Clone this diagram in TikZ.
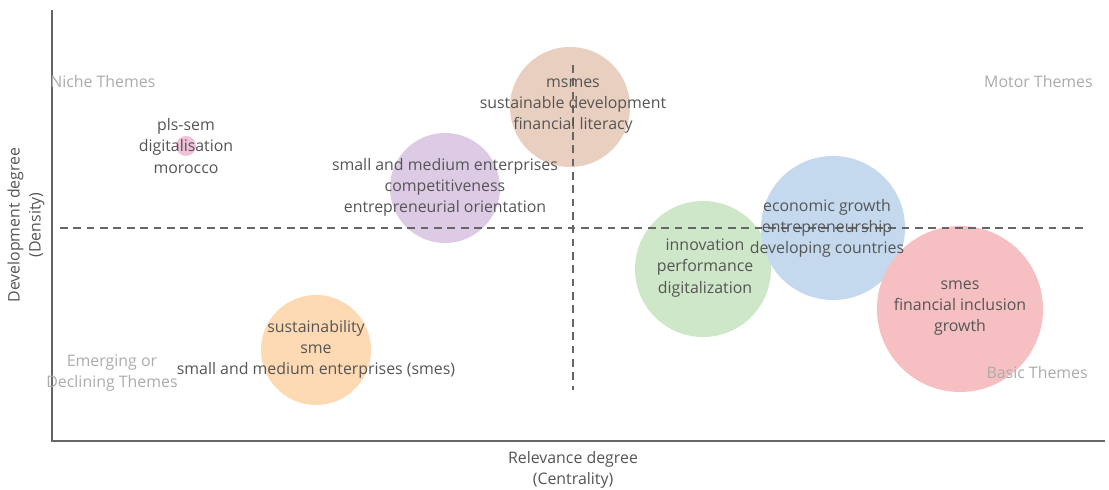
\documentclass[tikz,border=0pt]{standalone}
\usepackage{fontspec}
\setmainfont{Open Sans}
\usetikzlibrary{positioning}

\definecolor{txtgray}{HTML}{555555}
\definecolor{quadgray}{HTML}{ABABAB}
\definecolor{axisgray}{HTML}{666666}
\definecolor{cpink}{HTML}{EFC2DA}
\definecolor{cpeach}{HTML}{E9CFBF}
\definecolor{cpurple}{HTML}{DDCBE6}
\definecolor{cgreen}{HTML}{CFE7C9}
\definecolor{cblue}{HTML}{C5D9EE}
\definecolor{cred}{HTML}{F6C0C2}
\definecolor{corange}{HTML}{FDDAB3}

\begin{document}
\begin{tikzpicture}[x=0.025cm, y=-0.025cm,
	font=\fontsize{11.3}{15}\selectfont,
	theme/.style={circle, inner sep=0pt},
	words/.style={align=center, text=txtgray},
	quadrant/.style={align=center, text=quadgray},
	midline/.style={axisgray, line width=1.3pt, dash pattern=on 5.5pt off 4pt}]

	\useasboundingbox (0,0) rectangle (1109,490);

	% Temas (bolhas)
	\node[theme, fill=cpink, minimum size=0.5cm] (plssem) at (186,146) {};
	\node[theme, fill=cpeach, minimum size=3cm] (msmes) at (570,107) {};
	\node[theme, fill=cpurple, minimum size=2.75cm] (smecomp) at (445,188) {};
	\node[theme, fill=cgreen, minimum size=3.4cm] (innov) at (703,269) {};
	\node[theme, fill=cblue, minimum size=3.6cm] (econ) at (833,228) {};
	\node[theme, fill=cred, minimum size=4.15cm] (smes) at (960,309) {};
	\node[theme, fill=corange, minimum size=2.75cm] (sustain) at (316,350) {};

	% Eixos
	\draw[axisgray, line width=1pt] (52,10) -- (52,441) -- (1105,441);

	% Linhas medianas
	\coordinate (vtop) at (573,65);
	\coordinate (vbot) at (573,390);
	\coordinate (hleft) at (60,228);
	\coordinate (hright) at (1085,228);
	\draw[midline] (vtop) -- (vbot);
	\draw[midline] (hleft) -- (hright);

	% Palavras de cada tema
	\node[words] at (186,146) {pls-sem\\digitalisation\\morocco};
	\node[words] at (573,106) {msmes\\sustainable development\\financial literacy};
	\node[words] at (445,187) {small and medium enterprises\\competitiveness\\entrepreneurial orientation};
	\node[words] at (705,268) {innovation\\performance\\digitalization};
	\node[words] at (827,228) {economic growth\\entrepreneurship\\developing countries};
	\node[words] at (960,308) {smes\\financial inclusion\\growth};
	\node[words] at (316,349) {sustainability\\sme\\small and medium enterprises (smes)};

	% Quadrantes
	\node[quadrant, anchor=west, inner sep=0pt] (niche) at (50,82) {Niche Themes};
	\node[quadrant, anchor=east, inner sep=0pt] (motor) at (1093,82) {Motor Themes};
	\node[quadrant] (emerging) at (112,373) {Emerging or\\Declining Themes};
	\node[quadrant, anchor=east, inner sep=0pt] (basic) at (1088,373) {Basic Themes};

	% Títulos dos eixos
	\node[words] (xlabel) at (573,470) {Relevance degree\\(Centrality)};
	\node[words, rotate=90] (ylabel) at (26,225) {Development degree\\(Density)};

\end{tikzpicture}
\end{document}
